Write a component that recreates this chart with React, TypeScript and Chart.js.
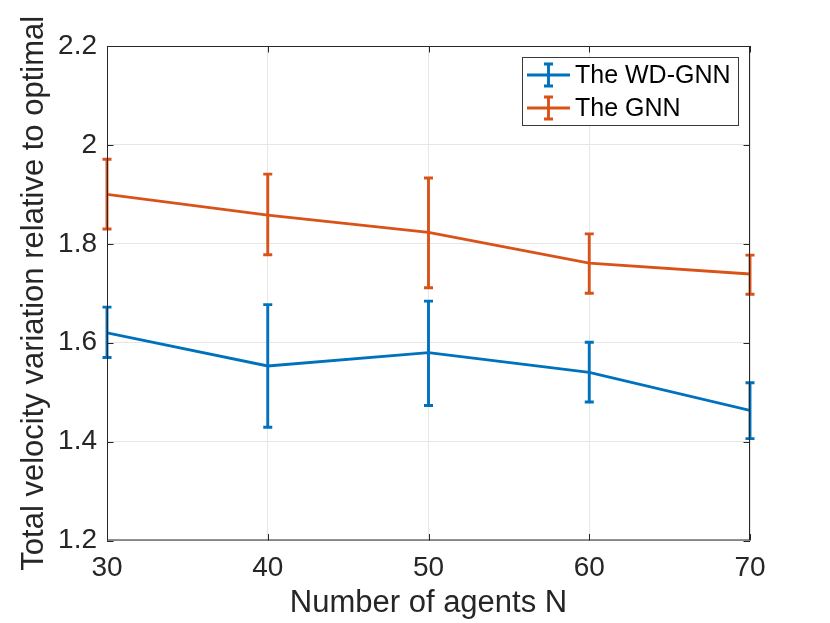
import React, { useEffect, useRef } from "react";
import { Chart, registerables } from "chart.js";

Chart.register(...registerables);

const agents = [30, 40, 50, 60, 70];
const wdGnnMean = [1.62, 1.553, 1.58, 1.54, 1.463];
const wdGnnLower = [1.57, 1.429, 1.473, 1.48, 1.406];
const wdGnnUpper = [1.672, 1.677, 1.684, 1.601, 1.519];
const gnnMean = [1.9, 1.858, 1.823, 1.761, 1.739];
const gnnLower = [1.83, 1.778, 1.711, 1.7, 1.698];
const gnnUpper = [1.971, 1.941, 1.933, 1.82, 1.777];
const xTicks = [30, 40, 50, 60, 70];
const yTicks = [1.2, 1.4, 1.6, 1.8, 2.0, 2.2];
const seriesLabels = ["The WD-GNN", "The GNN"];
const xTitle = "Number of agents N";
const yTitle = "Total velocity variation relative to optimal";

const BLUE = "#0072BD";
const ORANGE = "#D95319";
const AXIS = "#262626";
const FONT = '"Liberation Sans", Arial, Helvetica, sans-serif';
const LW = 2.9;

const errorBarPlugin = {
  id: "errorBars",
  afterDatasetsDraw(chart: any) {
    const ctx = chart.ctx;
    const xs = chart.scales.x;
    const ys = chart.scales.y;
    chart.data.datasets.forEach((ds: any) => {
      ctx.save();
      ctx.strokeStyle = ds.borderColor;
      ctx.lineWidth = LW;
      ds.data.forEach((p: any, i: number) => {
        const x = xs.getPixelForValue(p.x);
        const yl = ys.getPixelForValue(ds.errLower[i]);
        const yu = ys.getPixelForValue(ds.errUpper[i]);
        ctx.beginPath();
        ctx.moveTo(x, yl);
        ctx.lineTo(x, yu);
        ctx.moveTo(x - 4.5, yl);
        ctx.lineTo(x + 4.5, yl);
        ctx.moveTo(x - 4.5, yu);
        ctx.lineTo(x + 4.5, yu);
        ctx.stroke();
      });
      ctx.restore();
    });
  },
};

const framePlugin = {
  id: "frame",
  afterDatasetsDraw(chart: any) {
    const { ctx, chartArea: a } = chart;
    const xs = chart.scales.x;
    const ys = chart.scales.y;
    const tl = 6.5;
    ctx.save();
    ctx.strokeStyle = AXIS;
    ctx.lineWidth = 1;
    ctx.strokeRect(a.left + 0.5, a.top + 0.5, a.right - a.left - 1, a.bottom - a.top - 1);
    ctx.beginPath();
    xs.ticks.forEach((t: any) => {
      const x = Math.round(xs.getPixelForValue(t.value)) + 0.5;
      ctx.moveTo(x, a.bottom);
      ctx.lineTo(x, a.bottom - tl);
      ctx.moveTo(x, a.top);
      ctx.lineTo(x, a.top + tl);
    });
    ys.ticks.forEach((t: any) => {
      const y = Math.round(ys.getPixelForValue(t.value)) + 0.5;
      ctx.moveTo(a.left, y);
      ctx.lineTo(a.left + tl, y);
      ctx.moveTo(a.right, y);
      ctx.lineTo(a.right - tl, y);
    });
    ctx.stroke();
    ctx.restore();
  },
};

const legendPlugin = {
  id: "matlabLegend",
  afterDraw(chart: any) {
    const ctx = chart.ctx;
    const a = chart.chartArea;
    const right = a.right - 11;
    const top = a.top + 11;
    const w = 217;
    const h = 69;
    const left = right - w;
    ctx.save();
    ctx.fillStyle = "#ffffff";
    ctx.fillRect(left, top, w, h);
    ctx.strokeStyle = "#3a3a3a";
    ctx.lineWidth = 1;
    ctx.strokeRect(left + 0.5, top + 0.5, w - 1, h - 1);
    chart.data.datasets.forEach((ds: any, i: number) => {
      const cy = top + 18 + i * 33;
      const x0 = left + 5;
      const x1 = left + 48;
      const cx = (x0 + x1) / 2;
      ctx.strokeStyle = ds.borderColor;
      ctx.lineWidth = LW;
      ctx.beginPath();
      ctx.moveTo(x0, cy);
      ctx.lineTo(x1, cy);
      ctx.moveTo(cx, cy - 11);
      ctx.lineTo(cx, cy + 11);
      ctx.moveTo(cx - 4.5, cy - 11);
      ctx.lineTo(cx + 4.5, cy - 11);
      ctx.moveTo(cx - 4.5, cy + 11);
      ctx.lineTo(cx + 4.5, cy + 11);
      ctx.stroke();
      ctx.fillStyle = "#000000";
      ctx.font = `25px ${FONT}`;
      ctx.textBaseline = "middle";
      ctx.textAlign = "left";
      ctx.fillText(ds.label, left + 53, cy + 1);
    });
    ctx.restore();
  },
};

export default function App() {
  const ref = useRef<HTMLCanvasElement | null>(null);

  useEffect(() => {
    if (!ref.current) return;
    const toPts = (ys: number[]) => agents.map((x, i) => ({ x, y: ys[i] }));
    const chart = new Chart(ref.current, {
      type: "line",
      data: {
        datasets: [
          {
            label: seriesLabels[0],
            data: toPts(wdGnnMean),
            borderColor: BLUE,
            backgroundColor: BLUE,
            borderWidth: LW,
            pointRadius: 0,
            tension: 0,
            errLower: wdGnnLower,
            errUpper: wdGnnUpper,
          } as any,
          {
            label: seriesLabels[1],
            data: toPts(gnnMean),
            borderColor: ORANGE,
            backgroundColor: ORANGE,
            borderWidth: LW,
            pointRadius: 0,
            tension: 0,
            errLower: gnnLower,
            errUpper: gnnUpper,
          } as any,
        ],
      },
      options: {
        responsive: false,
        animation: false,
        devicePixelRatio: 1,
        layout: { padding: { top: 46, right: 80, left: 0, bottom: 0 } },
        plugins: {
          legend: { display: false },
          tooltip: { enabled: false },
        },
        scales: {
          x: {
            type: "linear",
            min: 30,
            max: 70,
            afterBuildTicks: (s: any) => {
              s.ticks = xTicks.map((v) => ({ value: v }));
            },
            afterFit: (s: any) => {
              s.height = 82.5;
            },
            grid: { color: "#e6e6e6", lineWidth: 1, drawTicks: false },
            border: { display: false },
            ticks: {
              color: AXIS,
              font: { family: FONT, size: 28 },
              padding: 11,
              maxRotation: 0,
              callback: (v: any) => String(v),
            },
            title: {
              display: true,
              text: xTitle,
              color: AXIS,
              font: { family: FONT, size: 31, lineHeight: 1.2 },
              padding: { top: 0, bottom: 1 },
            },
          },
          y: {
            type: "linear",
            min: 1.2,
            max: 2.2,
            afterBuildTicks: (s: any) => {
              s.ticks = yTicks.map((v) => ({ value: v }));
            },
            afterFit: (s: any) => {
              s.width = 107;
            },
            grid: { color: "#e6e6e6", lineWidth: 1, drawTicks: false },
            border: { display: false },
            ticks: {
              color: AXIS,
              font: { family: FONT, size: 28 },
              padding: 10,
              callback: (v: any) => String(parseFloat(Number(v).toFixed(1))),
            },
            title: {
              display: true,
              text: yTitle,
              color: AXIS,
              font: { family: FONT, size: 31, lineHeight: 1.2 },
              padding: { top: 16, bottom: 0 },
            },
          },
        },
      } as any,
      plugins: [errorBarPlugin, framePlugin, legendPlugin],
    });
    return () => chart.destroy();
  }, []);

  return (
    <div style={{ position: "fixed", left: 0, top: 0, width: 830, height: 623, background: "#fff" }}>
      <canvas ref={ref} width={830} height={623} style={{ display: "block", width: 830, height: 623 }} />
    </div>
  );
}
